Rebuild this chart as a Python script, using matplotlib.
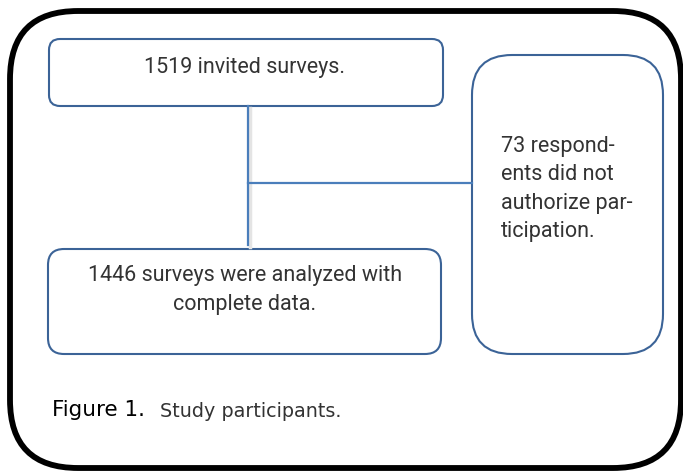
import matplotlib
matplotlib.use('Agg')
import matplotlib.pyplot as plt
from matplotlib.patches import FancyBboxPatch

# flowchart content
box_texts = ['1519 invited surveys.',
             '1446 surveys were analyzed with\ncomplete data.',
             '73 respond-\nents did not\nauthorize par-\nticipation.']
caption_bold = 'Figure 1.'
caption_text = 'Study participants.'

W, H = 683, 473
fig = plt.figure(figsize=(W / 100, H / 100), dpi=100)
ax = fig.add_axes([0, 0, 1, 1])
ax.set_xlim(0, W)
ax.set_ylim(H, 0)
ax.axis('off')

BLUE = '#3b6397'
LINE = '#4a7ebb'
TXT = '#333333'
FONT = ['Roboto', 'DejaVu Sans']


def rbox(x0, y0, x1, y1, r, color, lw):
    p = FancyBboxPatch((x0, y0), x1 - x0, y1 - y0,
                       boxstyle='round,pad=0,rounding_size=%d' % r,
                       fc='none', ec=color, lw=lw)
    ax.add_patch(p)


# outer frame
rbox(10, 11, 681, 468, 68, 'black', 4.2)

# boxes
rbox(49, 39, 443, 106, 11, BLUE, 1.5)
rbox(48, 249, 441, 354, 16, BLUE, 1.5)
rbox(472, 55, 663, 354, 40, BLUE, 1.5)

# connectors (with faint shadow)
ax.plot([250, 250], [108, 247], color='#e4e4e4', lw=2.5, zorder=1)
ax.plot([248, 248], [106, 245], color=LINE, lw=1.6, zorder=2)
ax.plot([248, 472], [183, 183], color=LINE, lw=1.6, zorder=2)

ax.text(245, 68, box_texts[0], ha='center', va='center', fontsize=15.5,
        color=TXT, family=FONT)
ax.text(245, 290, box_texts[1], ha='center', va='center', fontsize=15.5,
        color=TXT, family=FONT, linespacing=1.55)
ax.text(501, 189, box_texts[2], ha='left', va='center', fontsize=15.5,
        color=TXT, family=FONT, linespacing=1.47)

ax.text(52, 410, caption_bold, ha='left', va='center', fontsize=15.5,
        color='black', family='DejaVu Sans')
ax.text(160, 411, caption_text, ha='left', va='center', fontsize=13.8,
        color='#333333', family='DejaVu Sans')

fig.savefig('out.png', dpi=100)
